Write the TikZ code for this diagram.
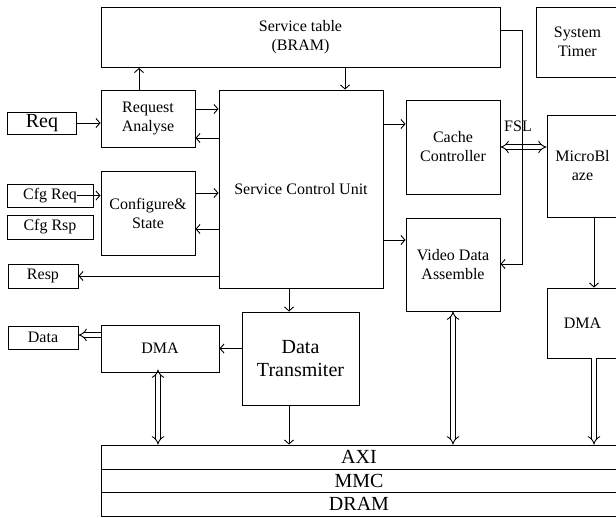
\documentclass[tikz,border=0pt]{standalone}
\usepackage{fontspec}
\setmainfont{Liberation Serif}
\usetikzlibrary{arrows.meta}

\tikzset{
  box/.style={draw, line width=0.9pt, align=center, inner sep=0pt,
    font=\fontsize{16}{19}\selectfont},
  bigbox/.style={box, font=\fontsize{20}{23}\selectfont},
  sig/.style={-{Straight Barb[length=4pt,width=9pt]}, line width=0.9pt},
  bus/.style={double, double distance=3.5pt, line width=0.9pt},
  bustip/.tip={Implies[scale=1.4]},
}

\begin{document}
\begin{tikzpicture}[x=1pt, y=-1pt]
    \useasboundingbox (0,0) rectangle (616,517);
    \clip (0,0) rectangle (616,517);

    \node[box, minimum width=399pt, minimum height=60pt] (table) at (300.5, 37.5) {Service table\\(BRAM)};
    \node[box, minimum width=83pt, minimum height=70pt] (timer) at (577.5, 42) {System\\Timer};
    \node[box, minimum width=94pt, minimum height=57pt] (reqan) at (148, 118.5) {Request\\Analyse};
    \node[box, minimum width=164pt, minimum height=198pt] (scu) at (301, 189) {Service Control Unit};
    \node[box, minimum width=94pt, minimum height=94pt] (cache) at (453, 147) {Cache\\Controller};
    \node[box, minimum width=71pt, minimum height=102pt] (mb) at (582.5, 166) {MicroBl\\aze};
    \node (fsl) at (518, 126) {\fontsize{16}{19}\selectfont FSL};

    \node[bigbox, minimum width=69pt, minimum height=22pt] (req) at (42, 123) {Req};
    \node[box, minimum width=94pt, minimum height=84pt] (conf) at (148, 213) {Configure\&\\State};
    \node[box, minimum width=86pt, minimum height=23pt] (cfgreq) at (50, 195.5) {Cfg Req};
    \node[box, minimum width=86pt, minimum height=24pt] (cfgrsp) at (50, 227) {Cfg Rsp};
    \node[box, minimum width=70pt, minimum height=24pt] (resp) at (43, 276) {Resp};
    \node[box, minimum width=94pt, minimum height=93pt] (vda) at (453, 264.5) {Video Data\\Assemble};

    \node[bigbox, minimum width=117pt, minimum height=93pt] (dt) at (300.5, 358.5) {Data\\Transmiter};
    \node[box, minimum width=118pt, minimum height=47pt] (dmaa) at (160, 348.5) {DMA};
    \node[box, minimum width=70pt, minimum height=23pt] (data) at (43, 337.5) {Data};
    \node[box, minimum width=71pt, minimum height=70pt] (dmab) at (582.5, 323) {DMA};

    \node[bigbox, minimum width=516pt, minimum height=24pt] (axi) at (359, 457) {AXI};
    \node[bigbox, minimum width=516pt, minimum height=23pt] (mmc) at (359, 480.5) {MMC};
    \node[bigbox, minimum width=516pt, minimum height=24pt] (dram) at (359, 504) {DRAM};

    % control signals
    \path[sig]
    (reqan.north -| 139,0) edge (table.south -| 139,0)
    (table.south -| 345,0) edge (scu.north -| 345,0)
    (req.east) edge (reqan.west |- req.east)
    (reqan.east |- 0,109) edge (scu.west |- 0,109)
    (scu.west |- 0,138) edge (reqan.east |- 0,138)
    ([xshift=-16pt]cfgreq.east) edge (conf.west |- cfgreq.east)
    (conf.east |- 0,193) edge (scu.west |- 0,193)
    (scu.west |- 0,229) edge (conf.east |- 0,229)
    (scu.west |- resp.east) edge (resp.east)
    (scu.east |- 0,124) edge (cache.west |- 0,124)
    (scu.east |- 0,240) edge (vda.west |- 0,240)
    (scu.south -| 289,0) edge (dt.north -| 289,0)
    (dt.west |- dmaa.east) edge (dmaa.east)
    (dt.south -| 289,0) edge (axi.north -| 289,0)
    (mb.south -| 594,0) edge (dmab.north -| 594,0);

    % data buses
    \draw[bus, bustip-bustip] (cache.east) -- (mb.west |- cache.east);
    \draw[bus, bustip-bustip] ([yshift=3pt]dmaa.south -| 158,0) -- (axi.north -| 158,0);
    \draw[bus, bustip-bustip] (vda.south) -- (axi.north -| vda.south);
    \draw[bus, -bustip] (dmaa.west |- 0,335) -- (data.east |- 0,335);
    \draw[bus, -bustip] (dmab.south -| 594,0) -- (axi.north -| 594,0);

    \coordinate (turn) at (522, 264);
    \draw[sig] (table.east |- 0,30) -| (turn) -- (vda.east |- turn);
\end{tikzpicture}
\end{document}
